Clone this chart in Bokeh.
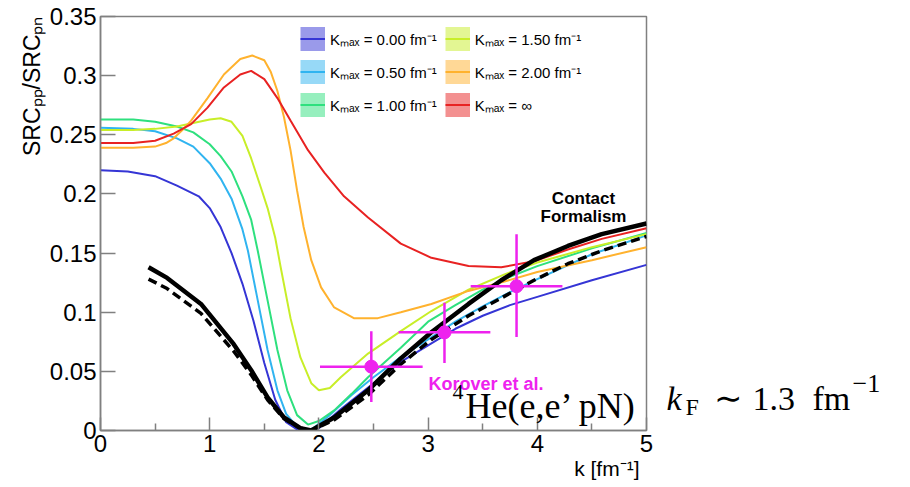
import math
from bokeh.plotting import figure
from bokeh.models import Range1d, FixedTicker, Label, Legend, LegendItem, Title
from bokeh.layouts import row
from bokeh.embed import file_html
from bokeh.resources import INLINE

# ---------------- data ----------------
k_kmax0 = [0, 0.25, 0.5, 0.7, 0.9, 1.0, 1.1, 1.2, 1.3, 1.4, 1.5, 1.6, 1.7, 1.8, 1.9, 2.0, 2.2, 2.5, 2.75, 3.0, 3.25, 3.5, 3.75, 4.0, 4.5, 5.0]
r_kmax0 = [0.220, 0.219, 0.215, 0.207, 0.198, 0.188, 0.172, 0.150, 0.124, 0.093, 0.057, 0.026, 0.007, 0.001, 0.000, 0.002, 0.018, 0.040, 0.058, 0.072, 0.086, 0.097, 0.106, 0.113, 0.127, 0.140]

k_kmax05 = [0, 0.3, 0.5, 0.7, 0.85, 1.0, 1.1, 1.2, 1.3, 1.35, 1.44, 1.53, 1.62, 1.7, 1.8, 1.87, 1.95, 2.1, 2.3, 2.5, 2.75, 3.0, 3.25, 3.5, 3.75, 4.0, 4.5, 5.0]
r_kmax05 = [0.256, 0.255, 0.253, 0.247, 0.240, 0.226, 0.213, 0.196, 0.170, 0.152, 0.110, 0.068, 0.034, 0.014, 0.003, 0.000, 0.002, 0.013, 0.030, 0.045, 0.062, 0.077, 0.092, 0.105, 0.117, 0.128, 0.149, 0.165]

k_kmax1 = [0, 0.3, 0.5, 0.7, 0.85, 1.0, 1.1, 1.2, 1.3, 1.38, 1.44, 1.53, 1.62, 1.71, 1.8, 1.9, 2.0, 2.14, 2.3, 2.45, 2.75, 3.0, 3.25, 3.5, 3.75, 4.0, 4.5, 5.0]
r_kmax1 = [0.263, 0.263, 0.261, 0.257, 0.252, 0.242, 0.232, 0.219, 0.198, 0.178, 0.152, 0.110, 0.068, 0.034, 0.013, 0.005, 0.008, 0.017, 0.031, 0.045, 0.070, 0.092, 0.106, 0.119, 0.130, 0.139, 0.154, 0.167]

k_kmax15 = [0, 0.3, 0.5, 0.7, 0.85, 1.0, 1.1, 1.2, 1.3, 1.38, 1.47, 1.53, 1.6, 1.65, 1.74, 1.83, 1.93, 2.0, 2.1, 2.2, 2.45, 2.75, 3.03, 3.37, 3.7, 4.0, 4.5, 5.0]
r_kmax15 = [0.254, 0.254, 0.255, 0.257, 0.260, 0.263, 0.264, 0.261, 0.249, 0.230, 0.205, 0.188, 0.163, 0.138, 0.095, 0.062, 0.040, 0.034, 0.036, 0.045, 0.065, 0.084, 0.101, 0.119, 0.132, 0.142, 0.155, 0.166]

k_kmax2 = [0, 0.3, 0.5, 0.6, 0.67, 0.75, 0.83, 0.98, 1.13, 1.28, 1.39, 1.5, 1.56, 1.62, 1.68, 1.74, 1.8, 1.86, 1.93, 2.02, 2.14, 2.32, 2.54, 2.75, 3.03, 3.37, 3.7, 4.0, 4.5, 5.0]
r_kmax2 = [0.239, 0.239, 0.240, 0.243, 0.247, 0.254, 0.262, 0.281, 0.301, 0.314, 0.317, 0.313, 0.303, 0.287, 0.265, 0.237, 0.203, 0.172, 0.144, 0.121, 0.104, 0.095, 0.095, 0.100, 0.107, 0.118, 0.126, 0.134, 0.144, 0.155]

k_kinf = [0, 0.3, 0.5, 0.67, 0.83, 0.98, 1.13, 1.28, 1.38, 1.5, 1.62, 1.74, 1.9, 2.05, 2.23, 2.45, 2.75, 3.03, 3.37, 3.67, 3.97, 4.28, 4.59, 5.0]
r_kinf = [0.243, 0.243, 0.245, 0.251, 0.259, 0.273, 0.290, 0.301, 0.304, 0.297, 0.281, 0.262, 0.237, 0.218, 0.198, 0.180, 0.158, 0.146, 0.139, 0.138, 0.143, 0.153, 0.162, 0.171]

k_contact = [0.44, 0.61, 0.92, 1.22, 1.38, 1.53, 1.68, 1.83, 1.93, 2.14, 2.45, 2.75, 3.03, 3.37, 3.67, 3.97, 4.28, 4.59, 5.0]
r_contact_solid = [0.138, 0.129, 0.107, 0.073, 0.051, 0.028, 0.011, 0.002, 0.000, 0.011, 0.034, 0.061, 0.083, 0.107, 0.127, 0.144, 0.156, 0.166, 0.175]
r_contact_dashed = [0.128, 0.120, 0.099, 0.067, 0.047, 0.026, 0.010, 0.002, 0.000, 0.009, 0.030, 0.056, 0.077, 0.097, 0.112, 0.127, 0.141, 0.152, 0.164]

k_data = [2.48, 3.15, 3.81]
r_data = [0.054, 0.083, 0.122]
k_data_lo = [2.01, 2.73, 3.39]
k_data_hi = [2.95, 3.57, 4.23]
r_data_lo = [0.024, 0.057, 0.079]
r_data_hi = [0.084, 0.108, 0.166]

series_labels = ["K\u2098\u2090\u2093 = 0.00 fm\u207b\u00b9", "K\u2098\u2090\u2093 = 0.50 fm\u207b\u00b9",
                 "K\u2098\u2090\u2093 = 1.00 fm\u207b\u00b9", "K\u2098\u2090\u2093 = 1.50 fm\u207b\u00b9",
                 "K\u2098\u2090\u2093 = 2.00 fm\u207b\u00b9", "K\u2098\u2090\u2093 = \u221e"]
x_ticks = [0, 1, 2, 3, 4, 5]
x_minor_ticks = [0.5, 1.5, 2.5, 3.5, 4.5]
x_tick_labels = ["0", "1", "2", "3", "4", "5"]
y_ticks = [0, 0.05, 0.1, 0.15, 0.2, 0.25, 0.3, 0.35]
y_tick_labels = ["0", "0.05", "0.1", "0.15", "0.2", "0.25", "0.3", "0.35"]
x_title = "k [fm\u207b\u00b9]"
y_title = "SRC\u209a\u209a/SRC\u209a\u2099"

# ---------------- main figure ----------------
W, H = 660, 487          # main panel; a text strip fills the rest of the 910 px row
L, R, T, B = 100, 646, 16, 430
X0, X1, Y0, Y1 = 0, 5, 0, 0.35

p = figure(width=W, height=H, x_range=Range1d(X0, X1), y_range=Range1d(Y0, Y1),
           output_backend="svg", toolbar_location=None,
           min_border_left=L, min_border_right=W - R, min_border_top=T, min_border_bottom=H - B)
p.xgrid.visible = False
p.ygrid.visible = False
p.background_fill_color = "white"
p.border_fill_color = "white"
p.outline_line_color = "#808080"
p.outline_line_width = 1.5

FONT = "Liberation Sans"
SERIF = "Liberation Serif"

for ax in (p.xaxis[0], p.yaxis[0]):
    ax.axis_line_color = "#808080"
    ax.axis_line_width = 1.5
    ax.major_tick_line_color = "#808080"
    ax.minor_tick_line_color = "#808080"
    ax.major_tick_line_width = 1.5
    ax.minor_tick_line_width = 1.5
    ax.major_tick_out = 0
    ax.minor_tick_out = 0
    ax.major_label_text_font = FONT
    ax.major_label_text_font_size = "24px"
    ax.major_label_text_color = "black"
    ax.major_label_standoff = 4

p.xaxis.ticker = FixedTicker(ticks=x_ticks, minor_ticks=x_minor_ticks)
p.xaxis.major_label_overrides = {t: s for t, s in zip(x_ticks, x_tick_labels)}
p.xaxis.major_tick_in = 13
p.xaxis.minor_tick_in = 7
p.yaxis.ticker = FixedTicker(ticks=y_ticks, minor_ticks=[])
p.yaxis.major_label_overrides = {t: s for t, s in zip(y_ticks, y_tick_labels)}
p.yaxis.major_tick_in = 15
p.yaxis.minor_tick_in = 0

p.add_layout(Title(text=y_title, align="right", text_font=FONT, text_font_size="23px",
                   text_font_style="normal", text_color="black", standoff=4), "left")
p.add_layout(Title(text=x_title, align="right", text_font=FONT, text_font_size="21px",
                   text_font_style="normal", text_color="black", standoff=0, offset=7), "below")

colors = ["#3535d5", "#30b4f0", "#2ee07e", "#c8ee28", "#ffb22e", "#e82222"]
xs = [k_kmax0, k_kmax05, k_kmax1, k_kmax15, k_kmax2, k_kinf]
ys = [r_kmax0, r_kmax05, r_kmax1, r_kmax15, r_kmax2, r_kinf]

items = []
for kx, ry, c, lab_text in zip(xs, ys, colors, series_labels):
    lr = p.line(kx, ry, line_color=c, line_width=2)
    # wide translucent twin: hidden in the plot, used as the legend's colour box
    br = p.line(kx, ry, line_color=c, line_width=24, line_alpha=0.5, visible=False)
    items.append(LegendItem(label=lab_text, renderers=[br, lr]))

p.line(k_contact, r_contact_solid, line_color="black", line_width=4.5)
p.line(k_contact, r_contact_dashed, line_color="black", line_width=3.5, line_dash="9 5")

MAG = "#ee22ee"
p.segment(x0=k_data_lo, y0=r_data, x1=k_data_hi, y1=r_data, line_color=MAG, line_width=2.5)
p.segment(x0=k_data, y0=r_data_lo, x1=k_data, y1=r_data_hi, line_color=MAG, line_width=2.5)
p.scatter(k_data, r_data, size=13, marker="circle", fill_color=MAG, line_color=MAG)

legend = Legend(items=items, location=(200, 313), orientation="vertical", nrows=3,
                glyph_width=25, glyph_height=25, label_standoff=5, spacing=8,
                padding=0, margin=0, border_line_alpha=0, background_fill_alpha=0,
                label_text_font=FONT, label_text_font_size="15px", label_text_color="black")
p.add_layout(legend)

def dx(px):
    return X0 + (px - L) / (R - L) * (X1 - X0)

def dy(py):
    return Y0 + (B - py) / (B - T) * (Y1 - Y0)

def lab(fig, x, y, text, size, font=FONT, style="normal", color="black", align="left"):
    fig.add_layout(Label(x=x, y=y, text=text, text_font=font, text_font_size=f"{size}px",
                         text_font_style=style, text_color=color, text_align=align,
                         text_baseline="alphabetic"))

lab(p, dx(583), dy(198), "Contact", 17, style="bold", align="center")
lab(p, dx(583), dy(216), "Formalism", 17, style="bold", align="center")
lab(p, dx(428), dy(383), "Korover et al.", 18, style="bold", color=MAG)
lab(p, dx(452), dy(391), "4", 22, font=SERIF)
lab(p, dx(465), dy(405), "He(e,e\u2019 pN)", 36, font=SERIF)

# ---------------- right text strip (k_F note) ----------------
# its frame is aligned with the main frame by the row layout, so y runs T..B in page pixels
W2 = 910 - W
q = figure(width=W2, height=H, x_range=Range1d(0, W2), y_range=Range1d(B, T),
           output_backend="svg", toolbar_location=None,
           x_axis_location=None, y_axis_location=None,
           min_border_left=0, min_border_right=0, min_border_top=0, min_border_bottom=0)
q.xgrid.visible = False
q.ygrid.visible = False
q.outline_line_color = None
q.background_fill_color = "white"
q.border_fill_color = "white"

ox = W
lab(q, 666 - ox, 398, "k", 34, font=SERIF, style="italic")
lab(q, 685 - ox, 406, "F", 24, font=SERIF)
lab(q, 713 - ox, 398, "\u223c", 34, font=SERIF)
lab(q, 752 - ox, 398, "1.3", 34, font=SERIF)
lab(q, 812 - ox, 398, "fm", 34, font=SERIF)
lab(q, 852 - ox, 383, "\u22121", 26, font=SERIF)

layout = row(p, q, spacing=0)
open("out.html", "w").write(file_html(layout, INLINE))
